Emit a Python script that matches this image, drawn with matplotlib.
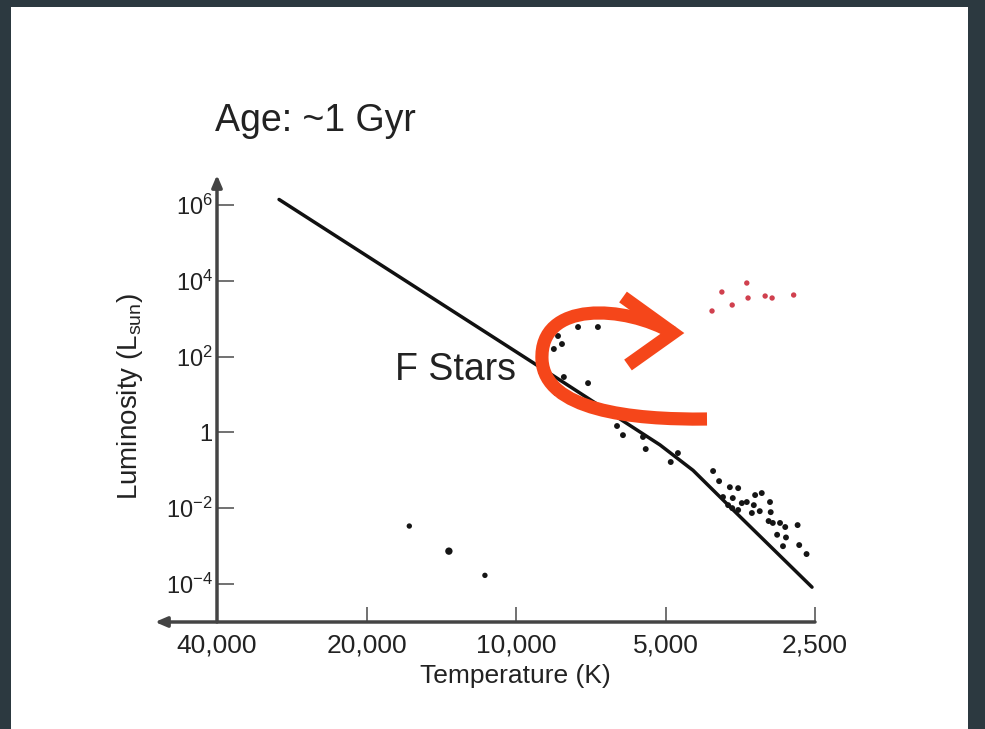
import matplotlib
matplotlib.use('Agg')
import matplotlib.pyplot as plt
from matplotlib.path import Path
from matplotlib.patches import PathPatch, Rectangle
from matplotlib.transforms import Affine2D

plt.rcParams['font.family'] = ['Liberation Sans', 'DejaVu Sans']
plt.rcParams['mathtext.fontset'] = 'custom'
plt.rcParams['mathtext.rm'] = 'Liberation Sans'
plt.rcParams['mathtext.it'] = 'Liberation Sans:italic'
plt.rcParams['mathtext.bf'] = 'Liberation Sans:bold'

# ---------------- data ----------------
line_temp = [30000, 8950, 5130, 4400, 3710, 2535]
line_lum = [1.4e6, 53, 0.47, 0.10, 0.011, 8.3e-5]

ms_temp = [8230, 8080, 8390, 7500, 6840, 8900, 8010, 7160, 8310, 6260, 6090,
           5550, 5480, 4880, 4720,
           4010, 3900, 3710, 3570, 3830, 3660, 3300, 3200, 3510, 3430, 3320,
           3080, 3740, 3670, 3570, 3350, 3230, 3070, 3100, 3040, 2940, 2870,
           2710, 2980, 2860, 2900, 2690, 2600]
ms_lum = [350, 215, 159, 604, 604, 39, 29, 20, 11, 1.48, 0.85,
          0.76, 0.365, 0.166, 0.286,
          0.096, 0.052, 0.036, 0.034, 0.0198, 0.0186, 0.0223, 0.0252, 0.0137,
          0.0146, 0.0121, 0.0146, 0.0121, 0.0101, 0.0090, 0.0075, 0.0084,
          0.0079, 0.0046, 0.0041, 0.0041, 0.0032, 0.0036, 0.0020, 0.0017,
          0.0010, 0.00107, 0.00062]

wd_temp = [16400, 13650, 11550]
wd_lum = [3.4e-3, 7.4e-4, 1.7e-4]

giant_temp = [4030, 3850, 3670, 3430, 3410, 3150, 3050, 2760]
giant_lum = [1600, 5070, 2300, 8750, 3520, 3970, 3520, 4220]

xticks = [40000, 20000, 10000, 5000, 2500]
xticklabels = ['40,000', '20,000', '10,000', '5,000', '2,500']
yticks = [1e6, 1e4, 1e2, 1, 1e-2, 1e-4]
yticklabels = [r'$\mathregular{10^{6}}$', r'$\mathregular{10^{4}}$',
               r'$\mathregular{10^{2}}$', '1',
               r'$\mathregular{10^{-2}}$', r'$\mathregular{10^{-4}}$']

# ---------------- figure ----------------
W, H = 985, 729
fig = plt.figure(figsize=(W / 100, H / 100), dpi=100)
fig.patch.set_facecolor('#2c3940')
fig.patches.append(Rectangle((11 / W, 0), (968 - 11) / W, 1 - 7 / H,
                             transform=fig.transFigure, facecolor='white',
                             edgecolor='none', zorder=-1))

px = Affine2D().scale(1 / W, -1 / H).translate(0, 1) + fig.transFigure

ax = fig.add_axes([217 / W, (H - 622) / H, (815 - 217) / W, (622 - 175) / H])
ax.set_facecolor('none')
ax.set_xscale('log')
ax.set_yscale('log')
ax.set_xlim(40000, 2500)
ax.set_ylim(1e-5, 10 ** (6 + 30 / 37.9))
for s in ax.spines.values():
    s.set_visible(False)

ax.set_xticks(xticks)
ax.set_xticklabels(xticklabels)
ax.set_yticks(yticks)
ax.set_yticklabels(yticklabels)
ax.minorticks_off()
ax.tick_params(axis='x', direction='in', length=11, width=1.3, color='#666666',
               labelsize=19, pad=8, labelcolor='#222222')
ax.tick_params(axis='y', direction='in', length=12, width=1.3, color='#666666',
               labelsize=17, pad=3, labelcolor='#222222')

# axis arrows
ax.annotate('', xy=(0, 1), xytext=(0, 0), xycoords='axes fraction',
            arrowprops=dict(arrowstyle='-|>,head_length=0.7,head_width=0.3',
                            color='#444444', lw=2.5, shrinkA=0, shrinkB=0))
ax.annotate('', xy=((155 - 217) / 598, 0), xytext=(1, 0), xycoords='axes fraction',
            arrowprops=dict(arrowstyle='-|>,head_length=0.7,head_width=0.3',
                            color='#444444', lw=2.5, shrinkA=0, shrinkB=0))

# main sequence line and stars
ax.plot(line_temp, line_lum, color='#111111', lw=2.5, solid_capstyle='round', zorder=2)
ax.scatter(ms_temp, ms_lum, s=18, color='#151515', edgecolors='none', zorder=3)
ax.scatter(wd_temp, wd_lum, s=[15, 28, 15], color='#151515', edgecolors='none', zorder=3)
ax.scatter(giant_temp, giant_lum, s=15, color='#d0404e', edgecolors='none', zorder=3)

# texts
fig.text(215 / W, 1 - 121 / H, 'Age: ~1 Gyr', fontsize=27, ha='left', va='center',
         color='#222222')
fig.text(395 / W, 1 - 370 / H, 'F Stars', fontsize=27, ha='left', va='center',
         color='#222222')
fig.text(130 / W, 1 - 397 / H, r'Luminosity (L$_{\mathregular{sun}}$)', fontsize=20,
         rotation=90, ha='center', va='center', color='#222222')
fig.text(515 / W, 1 - 676 / H, 'Temperature (K)', fontsize=19, ha='center',
         va='center', color='#222222')

# orange curved arrow overlay
verts = [(707, 419), (630, 420), (545, 410), (542, 360),
         (539, 300), (625, 305), (673, 333)]
codes = [Path.MOVETO, Path.CURVE4, Path.CURVE4, Path.CURVE4,
         Path.CURVE4, Path.CURVE4, Path.CURVE4]
fig.patches.append(PathPatch(Path(verts, codes), transform=px, fill=False,
                             edgecolor='#f5461a', lw=9.5, capstyle='butt', zorder=5))
chev = Path([(623, 297), (673, 333), (628, 365)],
            [Path.MOVETO, Path.LINETO, Path.LINETO])
fig.patches.append(PathPatch(chev, transform=px, fill=False, edgecolor='#f5461a',
                             lw=9.5, capstyle='butt', joinstyle='miter', zorder=5))

fig.savefig('out.png', dpi=100)
